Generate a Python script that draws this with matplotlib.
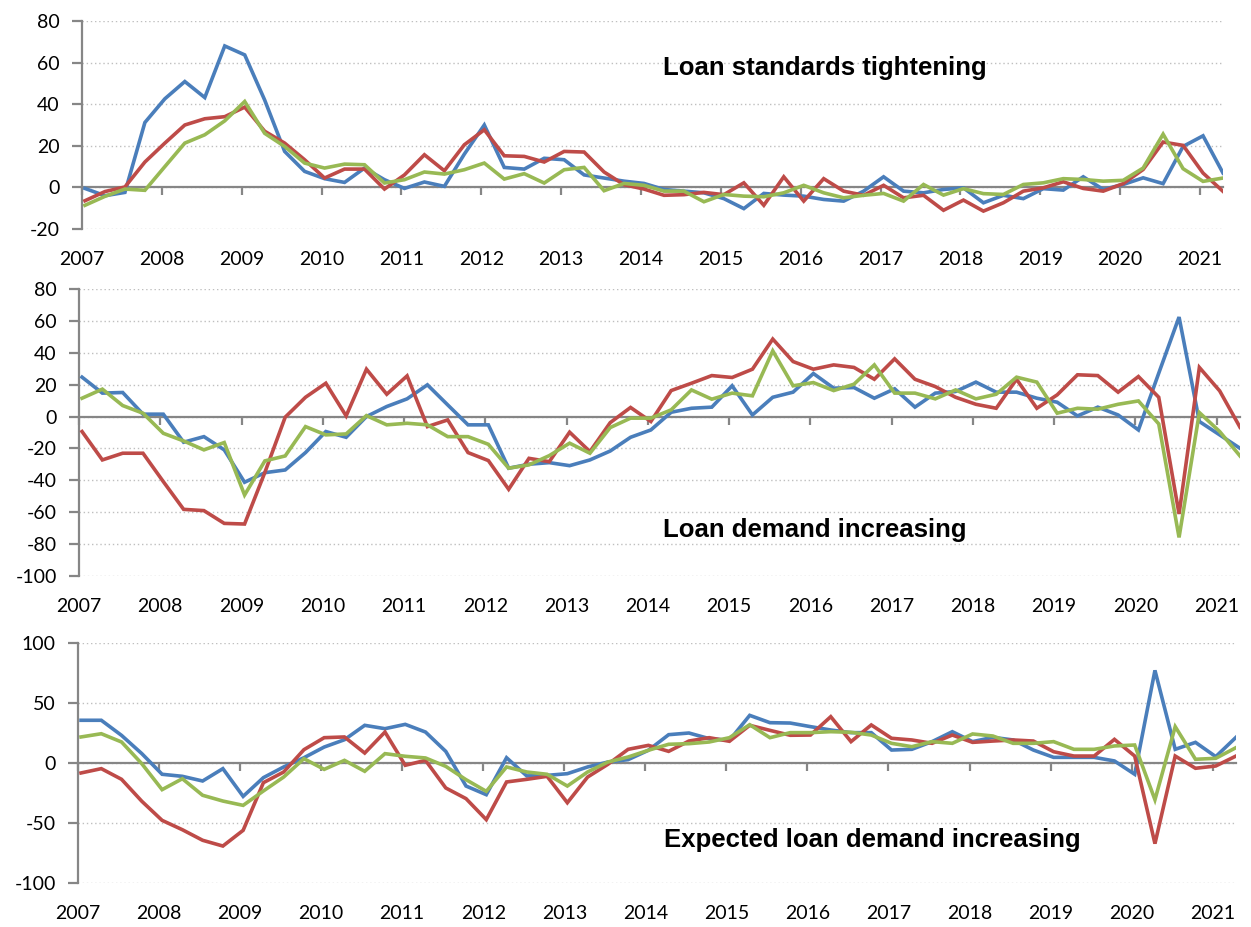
import numpy as np
import matplotlib
matplotlib.use("Agg")
import matplotlib.pyplot as plt

plt.rcParams["axes.unicode_minus"] = False

# ---------------- data (quarterly, 2007Q1 .. 2021Q2) ----------------
quarters = [f"{y}Q{q}" for y in range(2007, 2022) for q in range(1, 5)][:58]
year_labels = ["2007", "2008", "2009", "2010", "2011", "2012", "2013", "2014",
               "2015", "2016", "2017", "2018", "2019", "2020", "2021"]

standards_blue = [-0.5, -4, -2.4, 31.2, 42.6, 50.9, 43.2, 68, 63.7, 42, 17.3, 7.7, 4.2, 2.4, 9.3, 3.7, -0.5,
                  2.6, 0.5, 16, 30, 9.6, 8.8, 14, 13.3, 6, 4.5,
                  3, 1.9, -1, -1.8, -2.6, -5.4, -10.2, -2.9, -3.7, -4.2, -5.8, -6.6, -1.8, 5.1, -1.8,
                  -2.6, -1, -0.2, -7.4, -3.8, -5.4, -0.6, -1.3, 5.1, -1, 1.4, 4.6, 1.8, 19.7, 24.8, 6.9]
standards_red = [-6.4, -2, 0.2, 12.2, 21.3, 30, 33, 34, 38.6, 27, 21.3, 13.3, 4.5, 8.8, 8.8, -0.8, 6,
                 15.7, 8, 20.5, 27.7, 15.2, 14.9, 12.2, 17.3, 17, 7.4,
                 1.3, -0.8, -3.8, -3.5, -2.4, -3.5, 2.2, -8.6, 5.1, -6.6, 4.2, -1.8, -3.8, 1, -5,
                 -3.8, -11, -6.1, -11.4, -7.4, -1.8, -0.2, 2.7, -0.5, -1.8, 1.8, 8.6, 21.8, 20.2, 6.9, -1.9]
standards_green = [-8.6, -4.3, -0.8, -1.4, 10, 21.3, 25.3, 32, 41.3, 26, 19.7, 11.7, 9.3, 11.2, 10.9, 2.1, 3.7,
                   7.4, 6.4, 8.5, 11.7, 4, 6.6, 2.1, 8.5, 9.6, -1.6,
                   1.9, 1, -1.8, -1.8, -6.9, -3.4, -4.2, -4.5, -2.6, 1, -2.6, -5, -3.8, -2.9, -6.6,
                   1.4, -3.7, -0.6, -3, -3.4, 1.4, 2.2, 4.2, 3.8, 3, 3.4, 9.3, 25.6, 9, 2.9, 4.5]

demand_blue = [24.7, 14.7, 15.1, 1.5, 1.5, -16.1, -12.6, -20.9, -41.2, -35.2, -33.5, -22.6, -9.4, -13, 0, 6.3, 11.1,
               19.9, 7.3, -5.2, -5.2, -32.4, -29.9, -28.9, -30.8, -27.2, -21.6, -13, -8.4, 2.7, 5.2, 5.9, 19.3, 1, 12.1, 15.3, 27,
               17.8, 18.2, 11.5, 17.4, 5.9, 14.7, 15.7, 21.6, 15.3, 15.3, 11.5, 9, 0.4, 5.9, 1, -8.4, 27.2, 62.4,
               -3.1, -11.5, -19.9]
demand_red = [-9.4, -27.2, -23, -23, -40.8, -58.2, -59, -67, -67.4, -35, -0.4, 12.1, 20.9, 0.4, 29.7, 14, 25.5,
              -6.3, -2.1, -22.6, -27.6, -45.6, -26.2, -28.3, -9.8, -22, -3.8, 5.7, -3.1, 16.3, 20.9, 25.7, 24.5, 29.7, 48.6, 34.5, 29.7,
              32.4, 30.8, 23.4, 36.2, 23.4, 18.8, 12.1, 7.7, 5.2, 23.4, 5.2, 13.6, 26.2, 25.7, 15.3, 25.1, 12.1, -61.1,
              30.8, 16.1, -6.7]
demand_green = [11.5, 17.2, 6.9, 2.1, -10.5, -15.3, -20.9, -16.3, -49.2, -27.8, -24.7, -6.3, -11.5, -10.9, 0.6, -5.2, -4.2,
                -5.2, -12.6, -12.6, -17.4, -32.4, -30.3, -24.5, -16.7, -23, -6.9, -1, -1, 4.2, 16.7, 10.9, 14.7, 13, 41.2, 19.3, 21.3,
                16.3, 20.3, 32.4, 14.7, 14.7, 11.1, 16.7, 11.1, 14, 24.7, 21.6, 2.1, 5.2, 4.6, 7.7, 9.8, -4.6, -75.8,
                2.5, -9.4, -24.7]

expected_blue = [35.6, 35.6, 23, 7.8, -9.4, -11.1, -15, -4.7, -27.8, -12.2, -3.3, 4.4, 13.3, 19.4, 31.4, 28.6, 32.2,
                 25.8, 9.7, -19.2, -26.4, 4.4, -10.8, -10.3, -8.9, -3.3, 0.8, 2.8, 10.6, 23.6, 25, 20.3, 18.9, 39.7, 33.6, 33.3,
                 30.3, 27.5, 25.3, 25.3, 10.8, 11.4, 17.8, 26.1, 17.8, 21.4, 19.2, 10.8, 4.7, 4.7, 4.7, 1.7, -9.4, 77.2,
                 11.4, 17.2, 5.3, 21.4]
expected_red = [-8.3, -4.7, -13.6, -31.9, -47.8, -55.6, -64.4, -69.2, -56.1, -16.4, -7.5, 11.1, 21.1, 21.7, 8.3, 25.8, -1.9,
                2.2, -20.8, -29.7, -47.2, -15.8, -13.6, -11.1, -33.1, -11.7, -1.1, 11.4, 14.7, 9.7, 18.3, 21.1, 18.1, 31.4, 27.2, 23.1,
                23.3, 38.6, 17.8, 31.7, 20.6, 19.2, 16.4, 23.3, 17.2, 18.3, 19.2, 18.3, 9.4, 5.8, 5.8, 19.7, 5.8, -67.2,
                5.8, -4.4, -2.5, 5.8]
expected_green = [21.7, 24.4, 17.5, -0.6, -22.2, -13.1, -26.9, -31.7, -35.3, -23.3, -11.7, 3.6, -5.3, 2.2, -6.9, 7.8, 5.6,
                  4.2, -2.8, -13.9, -23.6, -3.3, -7.5, -9.4, -19.2, -7.5, 0.8, 5, 10.6, 15.6, 16.1, 17.5, 21.1, 31.9, 21.1, 25.3,
                  25.3, 26.1, 25.6, 23.3, 16.4, 13.6, 17.8, 16.4, 24.2, 22.5, 16.4, 16.4, 17.8, 11.4, 11.4, 14.2, 15, -30.6,
                  30.3, 3.1, 3.9, 12.8]

panel_titles = ["Loan standards tightening", "Loan demand increasing", "Expected loan demand increasing"]

# ---------------- style ----------------
BLUE, RED, GREEN = "#4A7EBB", "#BE4B48", "#98B954"
AXIS_GRAY = "#868686"
GRID_GRAY = "#BFBFBF"
TICK_FONT = "Lato"
TITLE_FONT = "Liberation Sans"

W, H = 1251, 927
fig = plt.figure(figsize=(W / 100, H / 100), dpi=100)

def px_axes(left, right, top, bottom):
    return fig.add_axes([left / W, 1 - bottom / H, (right - left) / W, (bottom - top) / H])

panels = [
    dict(box=(82, 1223, 21, 229), ylim=(-20, 80), yticks=range(-20, 81, 20),
         series=(standards_blue, standards_red, standards_green), title_xy=(663, 75)),
    dict(box=(79, 1240, 289, 576), ylim=(-100, 80), yticks=range(-100, 81, 20),
         series=(demand_blue, demand_red, demand_green), title_xy=(663, 537)),
    dict(box=(78, 1236, 643, 883), ylim=(-100, 100), yticks=range(-100, 101, 50),
         series=(expected_blue, expected_red, expected_green), title_xy=(664, 847)),
]

n = len(quarters)
x = np.arange(n) + 0.15          # survey dates sit slightly after quarter start
year_pos = np.arange(0, n, 4)

for p, title in zip(panels, panel_titles):
    ax = px_axes(*p["box"])
    ymin, ymax = p["ylim"]
    ax.set_xlim(0, x[-1])
    ax.set_ylim(ymin, ymax)

    # gridlines
    ax.set_yticks(list(p["yticks"]))
    ax.yaxis.grid(True, linestyle=(0, (1, 2)), color=GRID_GRAY, linewidth=1.0)
    ax.set_axisbelow(True)

    # series
    for vals, col in zip(p["series"], (BLUE, RED, GREEN)):
        ax.plot(x, vals, color=col, linewidth=2.6, solid_joinstyle="miter", zorder=3)

    # spines: left axis and horizontal axis crossing at zero
    for s in ("top", "right"):
        ax.spines[s].set_visible(False)
    ax.spines["left"].set_color(AXIS_GRAY)
    ax.spines["left"].set_linewidth(1.6)
    ax.spines["bottom"].set_position(("data", 0))
    ax.spines["bottom"].set_color(AXIS_GRAY)
    ax.spines["bottom"].set_linewidth(1.6)

    # y ticks
    ax.tick_params(axis="y", direction="out", length=7, width=1.6, color=AXIS_GRAY,
                   pad=9, labelsize=14, labelcolor="black")
    for lab in ax.get_yticklabels():
        lab.set_fontfamily(TICK_FONT)

    # x tick marks hang from the zero line, without labels
    ax.set_xticks(year_pos)
    ax.tick_params(axis="x", direction="out", length=6, width=1.6, color=AXIS_GRAY,
                   labelbottom=False)

    # year labels below the plot area
    sec = ax.secondary_xaxis("bottom")
    sec.set_xticks(year_pos)
    sec.set_xticklabels(year_labels, fontfamily=TICK_FONT, fontsize=14)
    sec.tick_params(axis="x", length=0, pad=16)
    sec.spines["bottom"].set_visible(False)

    # panel title
    tx, ty = p["title_xy"]
    fig.text(tx / W, 1 - ty / H, title, fontfamily=TITLE_FONT, fontweight="bold",
             fontsize=18.5, ha="left", va="baseline")

fig.savefig("out.png", dpi=100)
